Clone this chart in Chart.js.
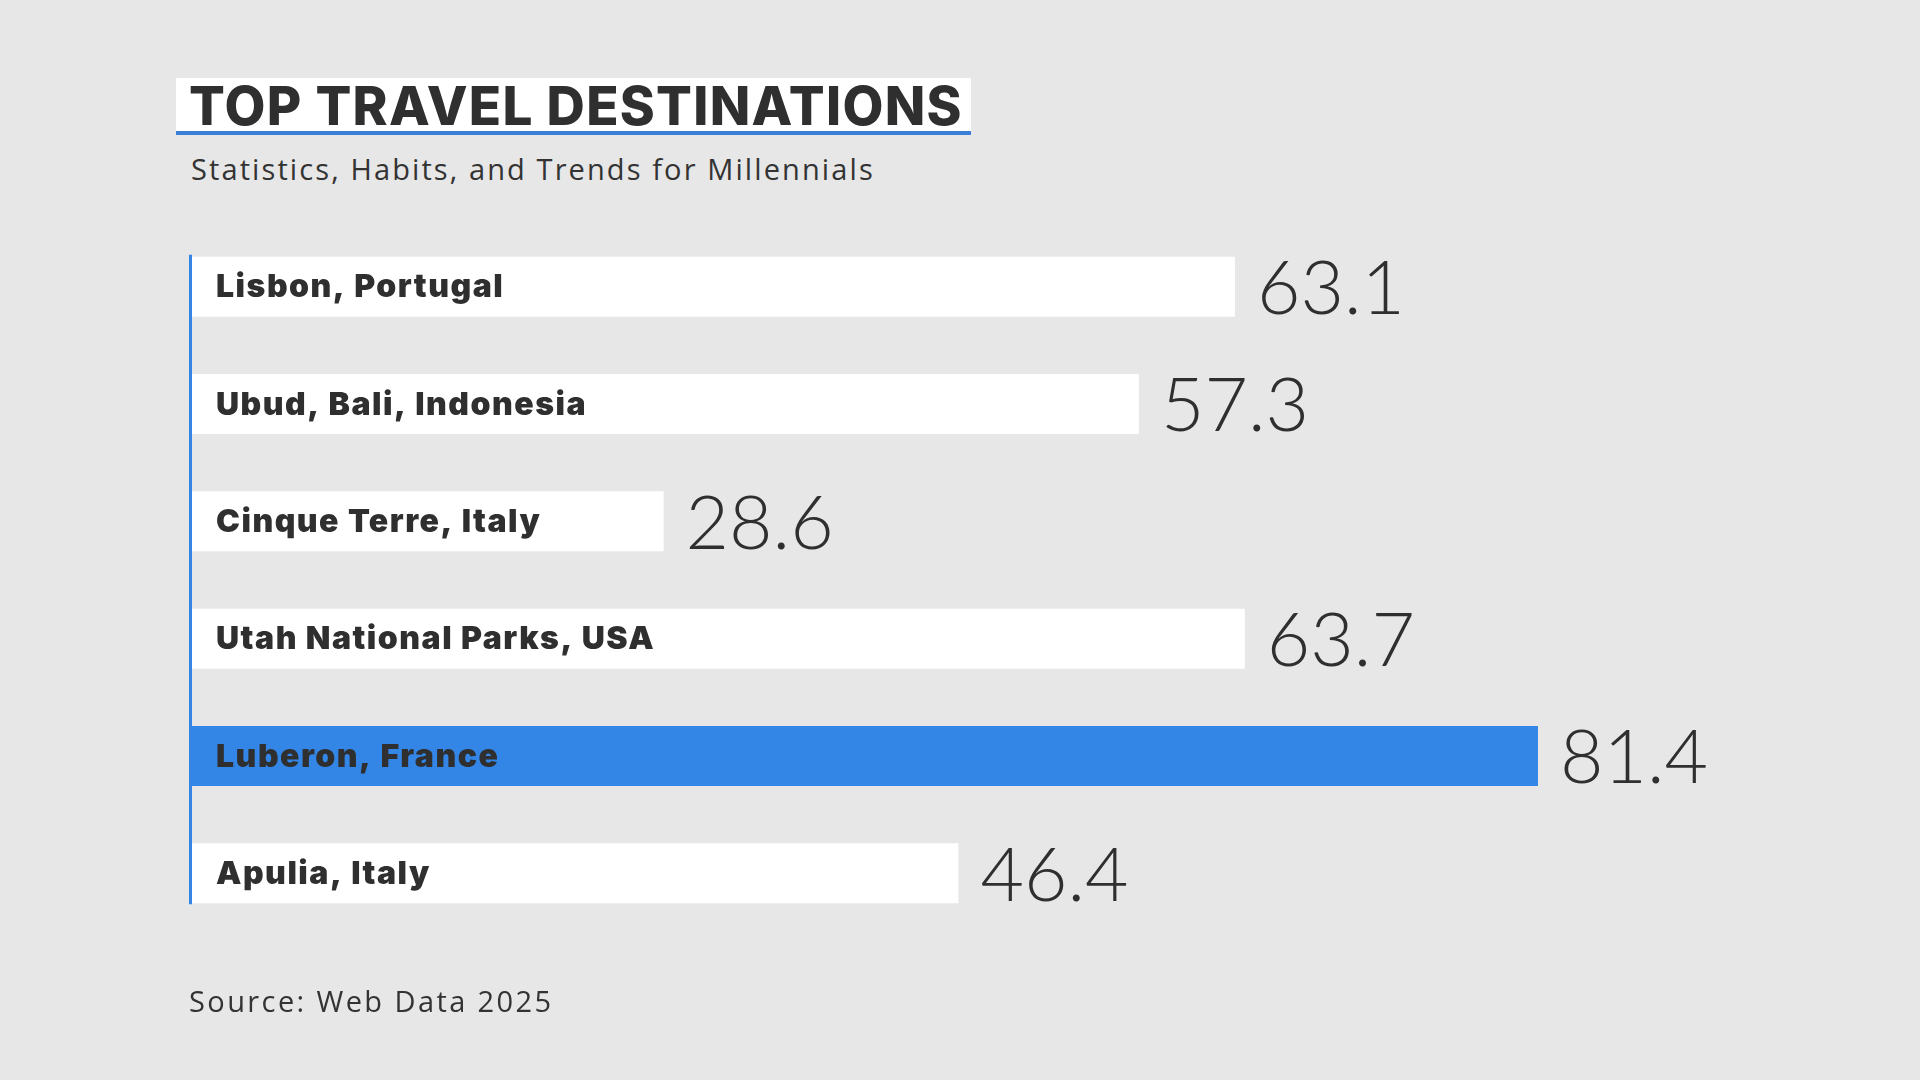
<!DOCTYPE html>
<html>
<head>
<meta charset="utf-8">
<script src="https://cdn.jsdelivr.net/npm/chart.js@4.4.1/dist/chart.umd.min.js"></script>
<style>
  html, body { margin: 0; padding: 0; background: #e7e7e7; }
  #wrap { position: relative; width: 1920px; height: 1080px; overflow: hidden; }
  #chart { position: absolute; left: 0; top: 0; }
  .title-box {
    position: absolute; left: 176px; top: 78px; width: 795px; height: 53px;
    background: #fff; border-bottom: 4px solid #3a80d8;
  }
  .title {
    position: absolute; left: 189px; top: 74px;
    font: 800 53px "Inter", "DejaVu Sans", sans-serif; color: #2f2f2f;
    letter-spacing: 1.3px; white-space: nowrap;
  }
  .subtitle {
    position: absolute; left: 191px; top: 149px;
    font: 400 29px "Open Sans", "Lato", sans-serif; color: #333; white-space: nowrap;
    letter-spacing: 2.1px;
  }
  .source {
    position: absolute; left: 189px; top: 981px;
    font: 400 29px "Open Sans", "Lato", sans-serif; color: #333; white-space: nowrap;
    letter-spacing: 2.4px;
  }
</style>
</head>
<body>
<div id="wrap">
  <div class="title-box"></div>
  <div class="title">TOP TRAVEL DESTINATIONS</div>
  <div class="subtitle">Statistics, Habits, and Trends for Millennials</div>
  <canvas id="chart" width="1920" height="1080"></canvas>
  <div class="source">Source: Web Data 2025</div>
</div>
<script>
"use strict";
// destinations, top to bottom
const places = ['Lisbon, Portugal', 'Ubud, Bali, Indonesia', 'Cinque Terre, Italy',
                'Utah National Parks, USA', 'Luberon, France', 'Apulia, Italy'];
const scores = [63.1, 57.3, 28.6, 63.7, 81.4, 46.4];
const highlight = 'Luberon, France';

const blue = 'rgb(51, 133, 230)';
const dark = '#2f2f2f';

const barLabels = {
    id: 'barLabels',
    afterDatasetsDraw(chart) {
        const ctx = chart.ctx;
        const meta = chart.getDatasetMeta(0);
        const area = chart.chartArea;
        ctx.save();
        // left axis line, only as tall as the bars
        const first = meta.data[0], last = meta.data[meta.data.length - 1];
        ctx.strokeStyle = blue;
        ctx.lineWidth = 3;
        ctx.beginPath();
        ctx.moveTo(area.left + 0.5, first.y - first.height / 2 - 2);
        ctx.lineTo(area.left + 0.5, last.y + last.height / 2 + 1);
        ctx.stroke();

        ctx.textBaseline = 'middle';
        meta.data.forEach((bar, i) => {
            ctx.fillStyle = dark;
            ctx.textAlign = 'left';
            ctx.font = '900 32px "Inter", "DejaVu Sans", sans-serif';
            ctx.letterSpacing = '1.5px';
            ctx.fillText(places[i], area.left + 26, bar.y + 1);
            ctx.font = '300 75px "Lato", "Open Sans", sans-serif';
            ctx.letterSpacing = '0px';
            ctx.fillText(scores[i].toFixed(1), bar.x + 22, bar.y + 3);
        });
        ctx.restore();
    }
};

new Chart(document.getElementById('chart'), {
    type: 'bar',
    data: {
        labels: places,
        datasets: [{
            data: scores,
            backgroundColor: places.map(p => p === highlight ? blue : '#ffffff'),
            borderWidth: 0,
            categoryPercentage: 1,
            barPercentage: 0.512,
        }],
    },
    options: {
        indexAxis: 'y',
        responsive: false,
        animation: false,
        layout: { padding: { left: 190, right: 74, top: 228, bottom: 148 } },
        plugins: {
            legend: { display: false },
            tooltip: { enabled: false },
        },
        scales: {
            x: { min: 0, max: 100, display: false },
            y: { display: false },
        },
    },
    plugins: [barLabels],
});
</script>
</body>
</html>
